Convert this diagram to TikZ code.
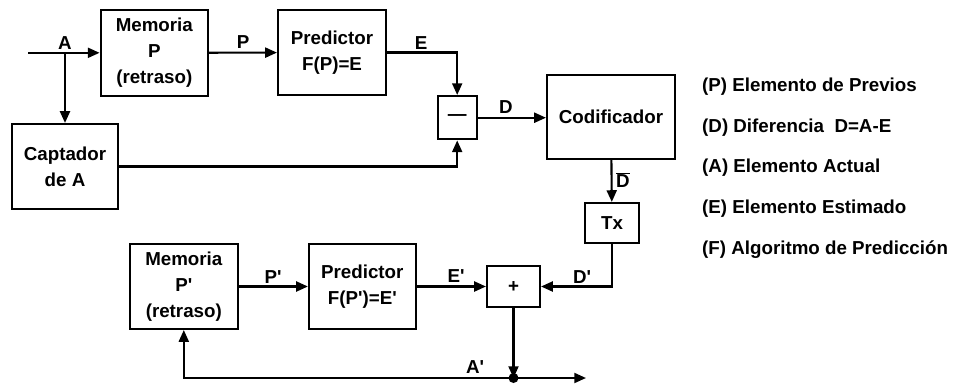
\documentclass[tikz,border=0pt]{standalone}
\usepackage{fontspec}
\setmainfont{Liberation Sans}
\usepackage{tikz}
\usetikzlibrary{arrows.meta,calc}

\newcommand{\pr}{\textquotesingle}

\begin{document}
\begin{tikzpicture}[
    x=0.03cm, y=-0.03cm,
    block/.style={draw, rectangle, line width=1.8pt, align=center, inner sep=1pt, font=\fontsize{16}{22}\selectfont\bfseries},
    lbl/.style={font=\fontsize{16}{19}\selectfont\bfseries, inner sep=1pt},
    legend/.style={font=\fontsize{16}{19}\selectfont\bfseries, anchor=west, inner sep=0pt},
    arr/.style={-{Triangle[length=10pt, width=8.5pt]}, line width=1.8pt},
    line/.style={line width=1.8pt},
]
\useasboundingbox (0,0) rectangle (954,385);

% Transmitter blocks
\node[block, minimum width=3.22cm, minimum height=2.57cm] (memA) at (154.3,52.8) {Memoria\\P\\(retraso)};
\node[block, minimum width=3.24cm, minimum height=2.55cm] (predA) at (332,52.5) {Predictor\\F(P)=E};
\node[block, minimum width=3.18cm, minimum height=2.55cm] (capt) at (65,166.5) {Captador\\de A};
\node[block, minimum width=1.17cm, minimum height=1.30cm] (minus) at (457.2,117.7) {---};
\node[block, minimum width=3.84cm, minimum height=2.52cm] (cod) at (611,117) {Codificador};
\node[block, minimum width=1.62cm, minimum height=1.20cm] (tx) at (612,223) {Tx};

% Receiver blocks
\node[block, minimum width=3.23cm, minimum height=2.55cm] (memB) at (183.8,286.5) {Memoria\\P\pr\\(retraso)};
\node[block, minimum width=3.20cm, minimum height=2.55cm] (predB) at (362.3,286.5) {Predictor\\F(P\pr)=E\pr};
\node[block, minimum width=1.59cm, minimum height=1.23cm] (sum) at (513.5,286.5) {+};

% Free ends
\coordinate (ain) at (28,52.8);
\coordinate (abr) at (65,52.8);
\coordinate (dot) at (513.5,378);
\coordinate (aout) at (586,378);

% Connections
\draw[arr] (ain) -- (memA.west);
\draw[arr] (abr) -- (capt.north);
\draw[arr] (memA) -- (predA);
\draw[arr] (predA.east) -| (minus.north);
\draw[arr] (capt.east) -| (minus.south);
\draw[arr] (minus.east) -- (minus.east -| cod.west);
\draw[arr] (cod) -- (tx);
\draw[arr] (tx.south) |- (sum.east);
\draw[arr] (memB) -- (predB);
\draw[arr] (predB) -- (sum);
\draw[arr] (sum.south) -- (dot);
\draw[arr] (dot) -- (aout);
\draw[arr] (dot) -| (memB.south);
\fill (dot) circle (5);

% Signal labels
\node[lbl] (lblA) at (65,43) {A};
\node[lbl] (lblP) at (243,42) {P};
\node[lbl] (lblE) at (421,43) {E};
\node[lbl] (lblD) at (506,107) {D};
\node[lbl] (lblDbar) at (623,180) {$\overline{\mbox{D}}$};
\node[lbl] (lblPp) at (273,277) {P\pr};
\node[lbl] (lblEp) at (456,276) {E\pr};
\node[lbl] (lblDp) at (582,277) {D\pr};
\node[lbl] (lblAp) at (475,367) {A\pr};

% Legend
\node[legend] (leg1) at (702,86.7) {(P) Elemento de Previos};
\node[legend] (leg2) at (702,128) {(D) Diferencia\ \ D=A-E};
\node[legend] (leg3) at (702,168) {(A) Elemento Actual};
\node[legend] (leg4) at (702,209) {(E) Elemento Estimado};
\node[legend] (leg5) at (702,250) {(F) Algoritmo de Predicción};

\end{tikzpicture}
\end{document}
